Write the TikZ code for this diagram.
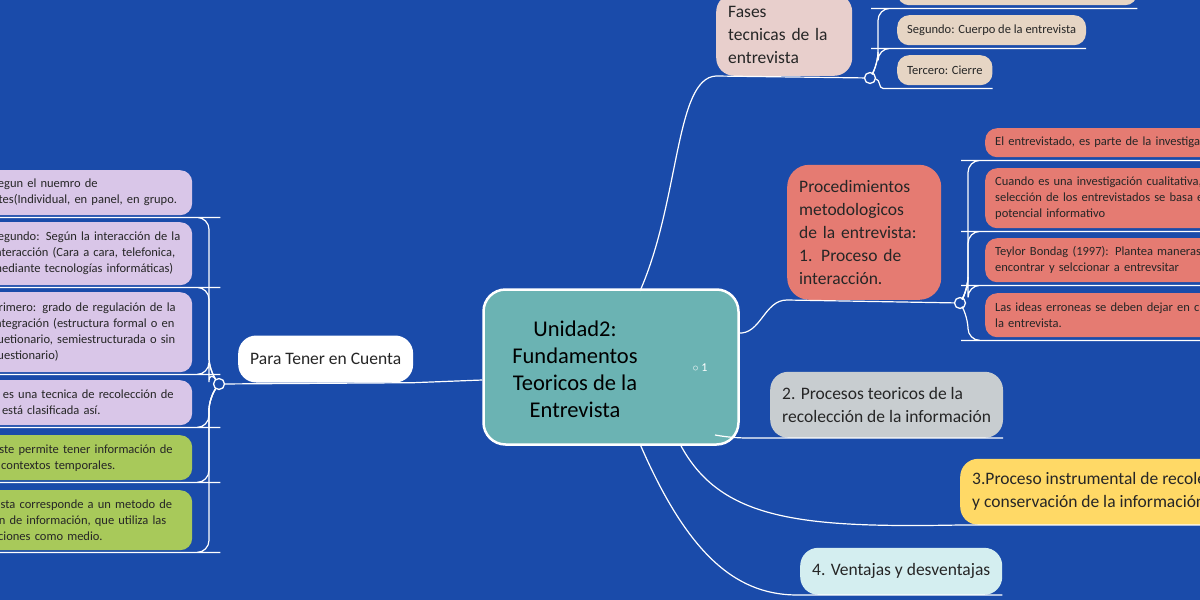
\documentclass[tikz,border=0pt]{standalone}
\usepackage{fontspec}
\setmainfont{Carlito}
\usetikzlibrary{calc}
\usetikzlibrary{positioning}
\definecolor{bgblue}{HTML}{1A4BAA}
\definecolor{teal}{HTML}{6BB3B3}
\definecolor{lilac}{HTML}{D9C6E8}
\definecolor{lime}{HTML}{A8C95A}
\definecolor{beige}{HTML}{E6D5C4}
\definecolor{rosy}{HTML}{E8CFCC}
\definecolor{salmon}{HTML}{E57B72}
\definecolor{greyish}{HTML}{C8CDD0}
\definecolor{yellowish}{HTML}{FFD966}
\definecolor{paleblue}{HTML}{D4EEF0}
\tikzset{centre/.style={draw=white, line width=2.5pt, fill=teal, rounded corners=22pt,
                        align=center, inner sep=10pt},
        topic/.style={rounded corners=18pt, align=left, inner xsep=12pt, inner ysep=8pt,
                        font=\fontsize{17.5}{23}\selectfont, text=black!85},
        leaf/.style={rounded corners=12pt, align=left, inner xsep=10pt, inner ysep=7pt,
                        font=\fontsize{12.5}{16}\selectfont, text=black!85},
        branch/.style={draw=white, line width=1.2pt},
        knot/.style={circle, draw=white, fill=bgblue, line width=1.3pt, minimum size=11pt, inner sep=0pt},
}

\begin{document}
\begin{tikzpicture}[x=1pt,y=-1pt]
    \fill[bgblue] (0,0) rectangle (1200,600);
    \useasboundingbox (0,0) rectangle (1200,600);

    % CENTRE
    \node[centre, minimum width=255pt, minimum height=155pt] (unidad) at (611,367) {};
    \node[font=\fontsize{22.5}{27}\selectfont, align=center] (unidadtxt) at (575,369)
        {Unidad2:\\Fundamentos\\Teoricos de la\\Entrevista};
    \node[font=\fontsize{12}{13}\selectfont, text=white] (links) at (700,368) {$\circ$ 1};

    % LEFT SIDE
    \node[topic, fill=white, anchor=west, minimum height=47pt] (cuenta) at (238,359) {Para Tener en Cuenta};
    \node[knot] (kleft) at (219,384) {};
    \draw[branch] (unidad.west |- 0,380) -- (cuenta.south east) -- (kleft);

    \node[leaf, fill=lilac, anchor=north west, text width=190pt, minimum height=45pt] (tercero) at (-18,170)
        {Segun el nuemro de\\ntes(Individual, en panel, en grupo.};
    \node[leaf, fill=lilac, anchor=north west, text width=190pt, minimum height=63pt] (segundo) at (-18,222)
        {Segundo: Según la interacción de la\\interacción (Cara a cara, telefonica,\\mediante tecnologías informáticas)};
    \node[leaf, fill=lilac, anchor=north west, text width=190pt, minimum height=80pt] (primero) at (-18,292)
        {Primero: grado de regulación de la\\integración (estructura formal o en\\cuetionario, semiestructurada o sin\\cuestionario)};
    \node[leaf, fill=lilac, anchor=north west, text width=190pt, minimum height=45pt] (tecnica) at (-18,380)
        {n es una tecnica de recolección de\\y está clasificada así.};
    \node[leaf, fill=lime, anchor=north west, text width=190pt, minimum height=45pt] (permite) at (-18,435)
        {riste permite tener información de\\s contextos temporales.};
    \node[leaf, fill=lime, anchor=north west, text width=190pt, minimum height=60pt] (metodo) at (-18,490)
        {vista corresponde a un metodo de\\on de información, que utiliza las\\aciones como medio.};

    \foreach \n in {tercero,segundo,primero}
        \draw[branch, rounded corners=12pt] (kleft) -- ++(-10,-14) |- ($(\n.south east)+(16,2)$) -- ($(\n.south west)+(0,2)$);
    \foreach \n in {tecnica,permite,metodo}
        \draw[branch, rounded corners=12pt] (kleft) -- ++(-10,14) |- ($(\n.south east)+(16,2)$) -- ($(\n.south west)+(0,2)$);

    % RIGHT SIDE
    \node[topic, fill=rosy, anchor=south west, text width=112pt, minimum height=82pt] (fases) at (716,76)
        {Fases\\tecnicas de la\\entrevista};
    \node[knot] (kfases) at (870,78) {};
    \draw[branch] (640,291) .. controls (680,200) and (675,78) .. (fases.south west) -- (kfases);

    \node[leaf, fill=beige, anchor=north west, minimum width=240pt, minimum height=30pt] (primerof) at (897,-25) {};
    \node[leaf, fill=beige, anchor=north west, minimum height=30pt] (segundof) at (897,15) {Segundo: Cuerpo de la entrevista};
    \node[leaf, fill=beige, anchor=north west, minimum height=30pt] (tercerof) at (897,55) {Tercero: Cierre};
    \foreach \n in {primerof,segundof}
        \draw[branch, rounded corners=12pt] (kfases) -- ++(8,-14) |- ($(\n.south west)+(-14,3)$) -- ($(\n.south east)+(0,3)$);
    \draw[branch] (kfases) to[out=-10,in=180] ($(tercerof.south west)+(-14,3)$) -- ($(tercerof.south east)+(0,3)$);

    \node[topic, fill=salmon, anchor=south west, text width=130pt, minimum height=135pt, rounded corners=22pt] (metodologicos) at (787,300)
        {Procedimientos\\metodologicos\\de la entrevista:\\1. Proceso de\\interacción.};
    \node[knot] (kmetodo) at (960,303) {};
    \draw[branch] (738,333) to[out=-5,in=180] (metodologicos.south west) -- (kmetodo);

    \node[leaf, fill=salmon, anchor=north west, minimum height=29pt, text width=260pt] (entrevistado) at (985,128)
        {El entrevistado, es parte de la investigación};
    \node[leaf, fill=salmon, anchor=north west, text width=260pt, minimum height=60pt] (cualitativa) at (985,168)
        {Cuando es una investigación cualitativa, la\\selección de los entrevistados se basa en su\\potencial informativo};
    \node[leaf, fill=salmon, anchor=north west, text width=260pt, minimum height=44pt] (teylor) at (985,238)
        {Teylor Bondag (1997): Plantea maneras de\\encontrar y selccionar a entrevsitar};
    \node[leaf, fill=salmon, anchor=north west, text width=260pt, minimum height=44pt] (erroneas) at (985,293)
        {Las ideas erroneas se deben dejar en cuenta en\\la entrevista.};
    \foreach \n in {entrevistado,cualitativa,teylor}
        \draw[branch, rounded corners=12pt] (kmetodo) -- ++(8,-14) |- ($(\n.south west)+(-12,3)$) -- ($(\n.south east)+(0,3)$);
    \draw[branch, rounded corners=12pt] (kmetodo) -- ++(8,14) |- ($(erroneas.south west)+(-12,3)$) -- ($(erroneas.south east)+(0,3)$);

    \node[topic, fill=greyish, anchor=south west, minimum height=66pt] (procesos) at (770,438)
        {2. Procesos teoricos de la\\recolección de la información};
    \draw[branch] (715,435) to[out=-10,in=180] (procesos.south west) -- (procesos.south east);

    \node[topic, fill=yellowish, anchor=south west, minimum height=66pt] (instrumental) at (960,525)
        {3.Proceso instrumental de recolección\\y conservación de la información};
    \draw[branch] (680,444) .. controls (720,520) and (800,528) .. (instrumental.south west) -- (instrumental.south east);

    \node[topic, fill=paleblue, anchor=south west, minimum height=47pt] (ventajas) at (800,595)
        {4. Ventajas y desventajas};
    \draw[branch] (640,444) .. controls (690,560) and (740,596) .. (ventajas.south west) -- (ventajas.south east);
\end{tikzpicture}
\end{document}
